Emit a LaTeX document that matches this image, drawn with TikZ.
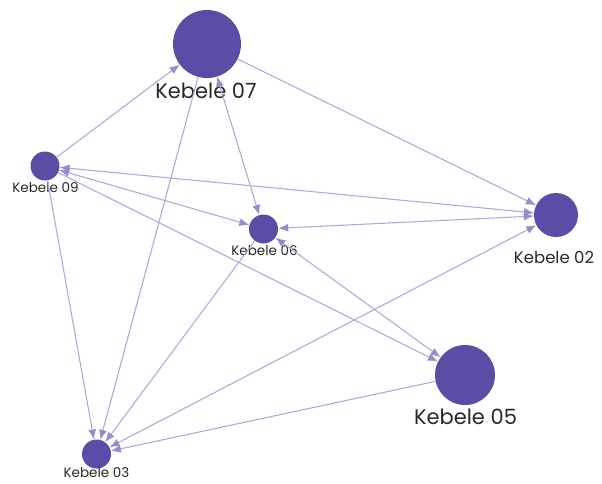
\documentclass[tikz,border=0pt]{standalone}
\usepackage{fontspec}
\setmainfont{Poppins}
\usetikzlibrary{arrows.meta}
\definecolor{nodefill}{RGB}{92,76,166}
\definecolor{edgecol}{RGB}{176,170,218}
\definecolor{tipcol}{RGB}{150,140,205}
\definecolor{labelcol}{RGB}{40,40,40}
\begin{document}
\begin{tikzpicture}[x=1pt,y=-1pt,
  kebele/.style={circle,fill=nodefill,draw=none,inner sep=0pt,minimum size=#1},
  biglabel/.style={anchor=base,text=labelcol,font=\fontsize{21}{21}\selectfont,inner sep=0pt},
  midlabel/.style={anchor=base,text=labelcol,font=\fontsize{16.5}{16.5}\selectfont,inner sep=0pt},
  smalllabel/.style={anchor=base,text=labelcol,font=\fontsize{13.5}{13.5}\selectfont,inner sep=0pt},
  tip/.style={Latex[length=10pt,width=8pt,color=tipcol]},
  link/.style={draw=edgecol,line width=1.1pt,-{Latex[length=10pt,width=8pt,color=tipcol]}},
  twoway/.style={draw=edgecol,line width=1.1pt,{Latex[length=10pt,width=8pt,color=tipcol]}-{Latex[length=10pt,width=8pt,color=tipcol]}}]
\useasboundingbox (0,0) rectangle (602,483);

% circles sized by weight
\node[kebele=68pt] (k07) at (207,44) {};
\node[kebele=29pt] (k09) at (45,166) {};
\node[kebele=29pt] (k06) at (263.5,229) {};
\node[kebele=44pt] (k02) at (556,215) {};
\node[kebele=60pt] (k05) at (465,375) {};
\node[kebele=29pt] (k03) at (96.5,454) {};

% labels
\node[biglabel] (l07) at (206,98) {Kebele 07};
\node[smalllabel] (l09) at (45.5,192) {Kebele 09};
\node[smalllabel] (l06) at (264.5,255) {Kebele 06};
\node[midlabel] (l02) at (554,263) {Kebele 02};
\node[biglabel] (l05) at (465.5,424) {Kebele 05};
\node[smalllabel] (l03) at (96.5,477) {Kebele 03};

% links between kebeles
\draw[link] (k09) -- (k07);
\draw[link] (k07) -- (k02);
\draw[link] (k07) -- (k03);
\draw[twoway] (k07) -- (k06);
\draw[twoway] (k09) -- (k06);
\draw[twoway] (k09) -- (k02);
\draw[link] (k09) -- (k05);
\draw[link] (k09) -- (k03);
\draw[twoway] (k06) -- (k02);
\draw[twoway] (k06) -- (k05);
\draw[link] (k06) -- (k03);
\draw[twoway] (k02) -- (k03);
\draw[link] (k05) -- (k03);
\end{tikzpicture}
\end{document}
